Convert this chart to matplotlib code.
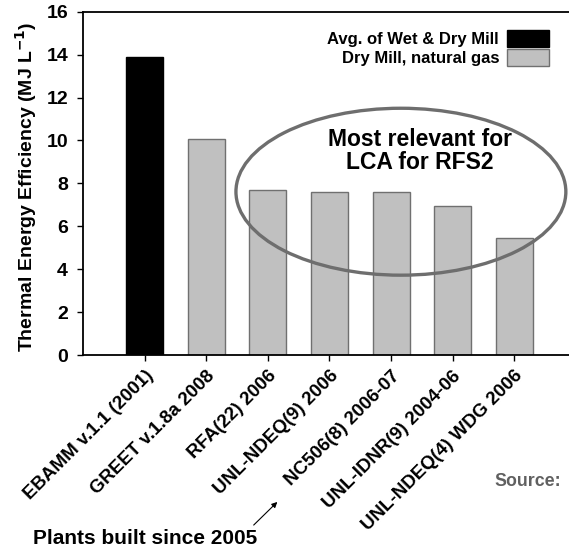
import matplotlib
matplotlib.use("Agg")
import matplotlib.pyplot as plt
from matplotlib.patches import Ellipse, Patch

plt.rcParams['font.family'] = ['Liberation Sans', 'DejaVu Sans']
plt.rcParams['font.weight'] = 'bold'

categories = ["EBAMM v.1.1 (2001)", "GREET v.1.8a 2008", "RFA(22) 2006",
              "UNL-NDEQ(9) 2006", "NC506(8) 2006-07", "UNL-IDNR(9) 2004-06",
              "UNL-NDEQ(4) WDG 2006"]
values = [13.87, 10.05, 7.69, 7.60, 7.58, 6.93, 5.44]
groups = ["Avg. of Wet & Dry Mill", "Dry Mill, natural gas", "Dry Mill, natural gas",
          "Dry Mill, natural gas", "Dry Mill, natural gas", "Dry Mill, natural gas",
          "Dry Mill, natural gas"]
yticks = [0, 2, 4, 6, 8, 10, 12, 14, 16]

W, H = 569, 552
fig = plt.figure(figsize=(W / 100, H / 100), dpi=100)
left_px, right_px, top_px, bot_px = 83.3, 569, 11.7, 355
ax = fig.add_axes([left_px / W, 1 - bot_px / H, (right_px - left_px) / W, (bot_px - top_px) / H])

fill = {"Avg. of Wet & Dry Mill": "black", "Dry Mill, natural gas": "#c0c0c0"}
edge = {"Avg. of Wet & Dry Mill": "black", "Dry Mill, natural gas": "#707070"}
x = list(range(len(categories)))
ax.bar(x, values, width=0.6, color=[fill[g] for g in groups],
       edgecolor=[edge[g] for g in groups], linewidth=1.0, zorder=2)

spacing = 61.55
ax.set_xlim(-1.0, -1.0 + (right_px - left_px) / spacing)
ax.set_ylim(0, 16)
ax.set_yticks(yticks)
ax.set_yticklabels([str(v) for v in yticks], fontsize=14, fontweight='bold')
ax.set_xticks(x)
ax.set_xticklabels(categories, rotation=45, ha='right', rotation_mode='anchor',
                   fontsize=13.5, fontweight='bold')
ax.tick_params(axis='both', direction='out', length=4, width=1, colors='black')
ax.tick_params(axis='y', pad=7)
ax.tick_params(axis='x', pad=5)
ax.spines['right'].set_visible(False)
for s in ['left', 'top', 'bottom']:
    ax.spines[s].set_linewidth(1.3)

ax.set_ylabel("Thermal Energy Efficiency (MJ L$^{\\mathbf{-1}}$)", fontsize=14,
              fontweight='bold', labelpad=2)
ax.yaxis.set_label_coords(-44 / (right_px - left_px), 0.49)

# legend
handles = [Patch(facecolor="black", edgecolor="black", label="Avg. of Wet & Dry Mill"),
           Patch(facecolor="#c0c0c0", edgecolor="#707070", label="Dry Mill, natural gas")]
leg = ax.legend(handles=handles, loc='upper right', markerfirst=False, frameon=False,
                bbox_to_anchor=(549 / W, 1 - 30 / H), bbox_transform=fig.transFigure,
                prop={'weight': 'bold', 'size': 12}, handlelength=2.5,
                handleheight=1.2, handletextpad=0.5, labelspacing=0.1,
                borderpad=0, borderaxespad=0)

# ellipse annotation
ell = Ellipse((4.16, 7.61), 5.36, 7.78, fill=False, edgecolor="#6e6e6e",
              linewidth=2.4, zorder=3, clip_on=False)
ax.add_patch(ell)
ax.text(420 / W, 1 - 151 / H, "Most relevant for\nLCA for RFS2", transform=fig.transFigure,
        ha='center', va='center', fontsize=16.5, fontweight='bold', linespacing=1.05)

fig.text(33 / W, 1 - 538 / H, "Plants built since 2005", ha='left', va='center',
         fontsize=15, fontweight='bold')
fig.text(494 / W, 1 - 481 / H, "Source:", ha='left', va='center',
         fontsize=12.8, fontweight='bold', color='#606060')
fig.add_artist(matplotlib.patches.FancyArrowPatch(
    (251.7 / W, 1 - 527 / H), (279.3 / W, 1 - 500 / H), transform=fig.transFigure,
    arrowstyle='-|>', mutation_scale=8, linewidth=0.8, color='black'))

fig.savefig("out.png", dpi=100)
